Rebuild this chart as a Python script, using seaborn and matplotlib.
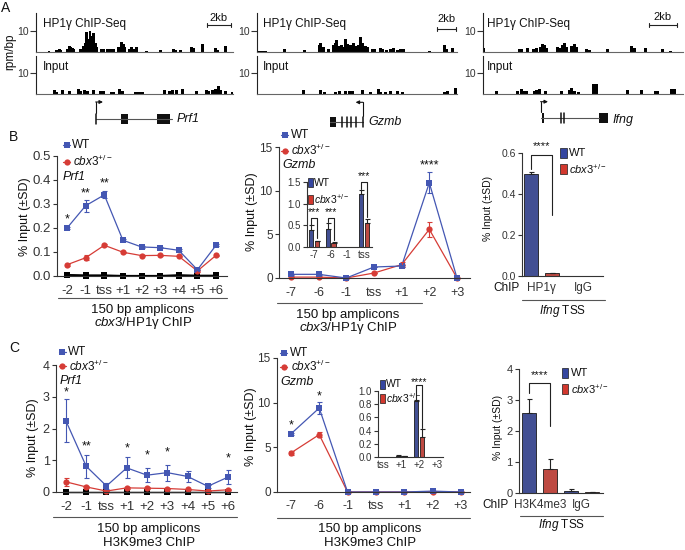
import numpy as np
import pandas as pd
import seaborn as sns
import matplotlib.pyplot as plt
from matplotlib.patches import Rectangle

sns.set_theme(style='ticks')
plt.rcParams['font.family'] = ['Liberation Sans', 'DejaVu Sans']
plt.rcParams['mathtext.fontset'] = 'custom'
plt.rcParams['mathtext.rm'] = 'Liberation Sans'
plt.rcParams['mathtext.it'] = 'Liberation Sans:italic'
plt.rcParams['mathtext.bf'] = 'Liberation Sans:bold'
plt.rcParams['axes.linewidth'] = 0.8
plt.rcParams['axes.edgecolor'] = '#333333'
plt.rcParams['xtick.color'] = '#333333'
plt.rcParams['ytick.color'] = '#333333'
plt.rcParams['text.color'] = '#111111'

W, H = 685, 550
BLUE, RED = '#4457b3', '#d63c36'
BAR_BLUE, BAR_RED = '#3546a0', '#d2382e'
CBX = r'$\mathit{cbx3}^{+/-}$'

# ---- panel A: tracks (position in % of window, height in rpm/bp) ----
prf1_chip_pos = [6.6, 10.5, 11.7, 12.5, 15.9, 16.8, 17.6, 18.4, 19.3, 22.7, 23.9, 24.9, 25.7, 26.6,
                 27.4, 28.3, 29.1, 30.0, 30.8, 33.3, 34.5, 36.2, 37.6, 39.3, 42.1, 43.3, 44.2, 45.0,
                 47.2, 48.4, 49.7, 50.8, 56.0, 63.3, 69.7, 70.7, 73.4, 78.8, 80.2, 84.4, 91.2, 92.0, 96.3]
prf1_chip_h = [0.5, 0.8, 1.2, 0.8, 1.5, 2.8, 2.2, 1.8, 1.5, 1.5, 3.0, 4.5, 9.5, 6.0,
               9.8, 7.5, 9.0, 4.5, 2.5, 1.3, 1.2, 1.5, 1.2, 1.5, 2.5, 4.8, 4.0, 2.5,
               1.5, 2.2, 1.5, 2.3, 0.7, 1.0, 1.5, 1.0, 0.8, 2.5, 2.0, 3.8, 1.8, 1.0, 2.7]
prf1_in_pos = [9.5, 10.5, 13.4, 16.8, 21.5, 22.7, 24.4, 26.0, 29.1, 32.8, 34.2, 38.2, 39.6, 42.6,
               43.8, 50.3, 51.5, 52.7, 53.9, 65.3, 68.0, 69.2, 71.4, 74.3, 81.6, 86.6, 87.8, 89.5,
               91.2, 92.4, 93.7, 96.3, 99.5]
prf1_in_h = [1.8, 1.0, 1.8, 1.6, 2.4, 1.5, 1.8, 1.5, 1.8, 1.6, 1.2, 0.8, 0.8, 2.2,
             1.4, 1.0, 1.0, 1.0, 1.0, 1.9, 1.2, 2.0, 1.8, 2.2, 1.2, 1.8, 1.2, 1.8,
             2.4, 3.8, 2.0, 1.3, 0.8]
gzmb_chip_pos = [1.0, 2.7, 4.3, 13.5, 23.5, 31.0, 31.8, 33.0, 35.5, 38.2, 39.0, 39.8, 40.7, 42.2,
                 43.2, 44.3, 45.2, 46.8, 48.0, 49.0, 50.5, 51.8, 52.8, 54.0, 55.2, 57.7, 58.8, 61.5,
                 62.7, 64.8, 66.8, 68.2, 70.2, 71.8, 73.2, 86.0, 93.5, 94.8, 97.7]
gzmb_chip_h = [0.5, 0.5, 0.5, 1.2, 1.0, 3.2, 4.2, 2.5, 1.5, 3.2, 4.3, 5.5, 3.0, 3.5,
               2.5, 6.0, 4.0, 3.5, 4.5, 3.0, 3.5, 7.2, 4.5, 3.0, 2.2, 1.5, 1.3, 2.0,
               1.2, 0.8, 1.5, 1.8, 1.0, 1.5, 1.2, 0.3, 3.5, 1.2, 2.0]
gzmb_in_pos = [23.2, 31.8, 33.5, 39.3, 41.0, 44.3, 46.0, 47.7, 52.7, 56.8, 60.7, 61.8, 64.3, 66.8,
               70.2, 72.7, 93.5, 95.2, 99.3]
gzmb_in_h = [2.0, 1.8, 1.0, 1.0, 1.2, 1.5, 1.3, 1.3, 1.8, 1.0, 2.3, 1.0, 1.0, 1.5,
             1.3, 1.0, 1.0, 1.5, 3.0]
ifng_chip_pos = [0.3, 18.2, 19.3, 22.2, 25.2, 26.5, 28.5, 29.5, 30.5, 31.5, 37.2, 38.2, 39.8, 40.7,
                 41.5, 44.3, 45.5, 46.5, 51.8, 53.2, 62.2, 74.3, 75.5, 81.0, 89.8, 93.8]
ifng_chip_h = [1.8, 1.2, 1.5, 1.8, 1.3, 1.8, 2.5, 3.8, 3.2, 2.0, 2.2, 2.0, 3.5, 4.2,
               2.5, 3.0, 4.0, 2.5, 1.2, 1.0, 1.5, 3.0, 2.0, 2.0, 1.2, 0.5]
ifng_in_pos = [6.8, 17.2, 19.3, 20.5, 21.8, 25.7, 26.8, 28.2, 31.0, 39.3, 43.2, 44.3, 45.5, 47.7,
               55.4, 56.6, 72.3, 79.3, 86.3, 87.2, 94.3, 95.5]
ifng_in_h = [1.2, 1.2, 2.2, 1.5, 1.5, 1.6, 1.8, 2.3, 1.5, 1.2, 1.8, 2.8, 1.5, 0.9,
             4.8, 4.8, 2.0, 2.0, 1.3, 1.3, 2.2, 2.2]

# gene models (% of window)
prf1_span, prf1_exons, prf1_lines = (30.5, 69.0), [(43.1, 46.7), (61.4, 68.0)], [30.5]
gzmb_span, gzmb_exons, gzmb_lines = (36.5, 52.8), [(36.5, 39.5)], [42.3, 44.8, 46.8, 49.5, 52.8]
ifng_span, ifng_exons, ifng_lines = (29.0, 58.2), [(29.3, 30.5), (58.2, 62.7)], [38.8, 40.7]

# ---- panel B ----
prf1_sites = ['-2', '-1', 'tss', '+1', '+2', '+3', '+4', '+5', '+6']
gzmb_sites = ['-7', '-6', '-1', 'tss', '+1', '+2', '+3']

b_prf1_wt = [0.200, 0.293, 0.338, 0.149, 0.121, 0.118, 0.107, 0.026, 0.128]
b_prf1_wt_sd = [0.006, 0.025, 0.015, 0.004, 0.004, 0.003, 0.004, 0.003, 0.004]
b_prf1_ko = [0.047, 0.076, 0.128, 0.099, 0.085, 0.086, 0.082, 0.021, 0.086]
b_prf1_ko_sd = [0.004, 0.010, 0.004, 0.003, 0.003, 0.003, 0.003, 0.003, 0.003]
b_prf1_igg1 = [0.006, 0.004, 0.004, 0.002, 0.002, 0.002, 0.005, 0.003, 0.003]
b_prf1_igg2 = [0.003, 0.002, 0.002, 0.001, 0.001, 0.001, 0.002, 0.001, 0.001]
b_prf1_stars = [('-2', '*', 0.235), ('-1', '**', 0.346), ('tss', '**', 0.385)]

b_gzmb_wt = [0.42, 0.42, 0.0, 1.26, 1.37, 10.9, 0.0]
b_gzmb_wt_sd = [0.05, 0.05, 0.0, 0.05, 0.15, 1.2, 0.0]
b_gzmb_ko = [0.10, 0.10, 0.0, 0.57, 1.53, 5.57, 0.0]
b_gzmb_ko_sd = [0.03, 0.03, 0.0, 0.05, 0.30, 0.85, 0.0]
b_gzmb_stars = [('+2', '****', 12.9)]

b_inset_sites = ['-7', '-6', '-1', 'tss']
b_inset_wt = [0.40, 0.41, 0.0, 1.23]
b_inset_wt_sd = [0.10, 0.14, 0.0, 0.08]
b_inset_ko = [0.13, 0.10, 0.0, 0.56]
b_inset_ko_sd = [0.02, 0.02, 0.0, 0.08]
# (site index, stars, bracket top, left foot, right foot, star height)
b_inset_brackets = [(0, '***', 0.68, 0.51, 0.20, 0.80), (1, '***', 0.68, 0.58, 0.16, 0.80),
                    (3, '***', 1.51, 1.35, 0.70, 1.63)]

b_ifng_chip = ['HP1γ', 'IgG']
b_ifng_wt = [0.499, 0.002]
b_ifng_wt_sd = [0.006, 0.0]
b_ifng_ko = [0.015, 0.001]
b_ifng_ko_sd = [0.002, 0.0]
b_ifng_bracket = (0, '****', 0.589, 0.524, 0.30, 0.635)

# ---- panel C ----
c_prf1_wt = [2.24, 0.81, 0.19, 0.76, 0.53, 0.61, 0.49, 0.18, 0.47]
c_prf1_wt_sd = [0.68, 0.37, 0.10, 0.33, 0.23, 0.25, 0.17, 0.04, 0.21]
c_prf1_ko = [0.32, 0.16, 0.03, 0.13, 0.12, 0.11, 0.08, 0.03, 0.07]
c_prf1_ko_sd = [0.12, 0.04, 0.01, 0.03, 0.03, 0.03, 0.02, 0.01, 0.02]
c_prf1_igg1 = [0.01, 0.01, 0.01, 0.01, 0.01, 0.01, 0.01, 0.01, 0.01]
c_prf1_igg2 = [0.0, 0.0, 0.0, 0.0, 0.0, 0.0, 0.0, 0.0, 0.0]
c_prf1_stars = [('-2', '*', 3.13), ('-1', '**', 1.42), ('+1', '*', 1.37), ('+2', '*', 1.16),
                ('+3', '*', 1.26), ('+6', '*', 1.05)]

c_gzmb_wt = [6.5, 9.4, 0.0, 0.0, 0.0, 0.1, 0.0]
c_gzmb_wt_sd = [0.15, 0.65, 0.0, 0.0, 0.0, 0.05, 0.0]
c_gzmb_ko = [4.37, 6.42, 0.0, 0.0, 0.0, 0.05, 0.0]
c_gzmb_ko_sd = [0.25, 0.30, 0.0, 0.0, 0.0, 0.0, 0.0]
c_gzmb_stars = [('-7', '*', 7.5), ('-6', '*', 10.7)]

c_inset_sites = ['tss', '+1', '+2', '+3']
c_inset_wt = [0.005, 0.02, 0.85, 0.0]
c_inset_wt_sd = [0.0, 0.005, 0.01, 0.0]
c_inset_ko = [0.003, 0.01, 0.30, 0.0]
c_inset_ko_sd = [0.0, 0.003, 0.12, 0.0]
c_inset_brackets = [(2, '****', 1.085, 0.86, 0.435, 1.13)]

c_ifng_chip = ['H3K4me3', 'IgG']
c_ifng_wt = [2.59, 0.065]
c_ifng_wt_sd = [0.45, 0.075]
c_ifng_ko = [0.79, 0.02]
c_ifng_ko_sd = [0.32, 0.01]
c_ifng_bracket = (0, '****', 3.55, 3.24, 2.16, 3.82)


def px_ax(fig, l, t, r, b):
    return fig.add_axes([l / W, 1 - b / H, (r - l) / W, (b - t) / H])


def track(ax, pos, h, ymax):
    ax.bar(pos, h, width=1.5, color='black', linewidth=0)
    ax.set_xlim(0, 100)
    ax.set_ylim(0, ymax)
    ax.set_yticks([10])
    ax.set_yticklabels(['10'])
    ax.set_xticks([])
    sns.despine(ax=ax)
    ax.spines['bottom'].set_color('#666666')
    ax.spines['left'].set_color('#222222')
    ax.tick_params(axis='y', length=4, width=0.8, labelsize=7.5, pad=1)


def gene(ax, span, exons, lines, y, tss, direction, ay):
    ax.plot(span, [y, y], color='#555555', lw=0.8)
    for a, b in exons:
        ax.add_patch(Rectangle((a, y - 5), b - a, 10, color='#111111', lw=0))
    for x in lines:
        ax.plot([x, x], [y - 5, y + 5], color='#111111', lw=1.1)
    ax.plot([tss, tss], [y - 6, ay], color='#111111', lw=0.8)
    ax.annotate('', xy=(tss + direction * 3.5, ay), xytext=(tss - direction * 0.2, ay),
                arrowprops=dict(arrowstyle='-|>', lw=0.8, color='#111111', mutation_scale=5,
                                shrinkA=0, shrinkB=0))
    ax.set_xlim(0, 100)
    ax.set_ylim(130, 96)
    ax.axis('off')


def line_panel(ax, sites, series, sds, colors, markers):
    df = pd.concat([pd.DataFrame({'site': np.arange(len(sites)), 'val': v, 'group': k})
                    for k, v in series.items()])
    sns.lineplot(data=df, x='site', y='val', hue='group', style='group', hue_order=list(series),
                 style_order=list(series), palette=colors, markers=markers, dashes=False,
                 markersize=4.5, markeredgewidth=0, linewidth=0.9, legend=False, ax=ax)
    for k, sd in sds.items():
        ax.errorbar(np.arange(len(sites)), series[k], yerr=sd, fmt='none', ecolor=colors[k],
                    elinewidth=0.8, capsize=1.8, capthick=0.8, clip_on=False)
    for ln in ax.lines:
        ln.set_clip_on(False)


def bar_panel(ax, cats, wt, wt_sd, ko, ko_sd, width, gap):
    df = pd.DataFrame({'cat': cats * 2, 'val': wt + ko,
                       'geno': ['WT'] * len(cats) + ['cbx3'] * len(cats)})
    sns.barplot(data=df, x='cat', y='val', hue='geno', order=cats, hue_order=['WT', 'cbx3'],
                palette={'WT': BAR_BLUE, 'cbx3': BAR_RED}, width=width, gap=gap,
                edgecolor='#1a1a1a', linewidth=0.6, errorbar=None, legend=False, ax=ax)
    centers = []
    for cont, sd in zip(ax.containers, [wt_sd, ko_sd]):
        xs = np.array([b.get_x() + b.get_width() / 2 for b in cont])
        ys = np.array([b.get_height() for b in cont])
        sd = np.array(sd)
        m = sd > 0
        ax.errorbar(xs[m], ys[m], yerr=[np.zeros(m.sum()), sd[m]], fmt='none', ecolor='#222222',
                    elinewidth=0.8, capsize=1.8, capthick=0.8)
        centers.append(xs)
    return centers


def style_axes(ax, xlim, ylim, yticks, yfmt, xlabels, xsize, ysize, xpad):
    sns.despine(ax=ax)
    ax.set_xlim(*xlim)
    ax.set_ylim(*ylim)
    ax.set_yticks(yticks)
    ax.set_yticklabels([yfmt.format(v) for v in yticks])
    ax.set_xticks(range(len(xlabels)))
    ax.set_xticklabels(xlabels)
    ax.tick_params(axis='x', length=0, labelsize=xsize, pad=xpad)
    ax.tick_params(axis='y', length=3, width=0.8, labelsize=ysize, pad=1.5)
    ax.set_xlabel('')
    ax.set_ylabel('')


def stars(ax, sites, marks, fs=9):
    for site, s, y in marks:
        ax.text(sites.index(site), y, s, ha='center', va='center', fontsize=fs, clip_on=False)


def brackets(ax, centers, marks, fs=8):
    for i, s, top, lft, rgt, sy in marks:
        x0, x1 = centers[0][i], centers[1][i]
        ax.plot([x0, x0, x1, x1], [lft, top, top, rgt], color='#222222', lw=0.8, clip_on=False)
        ax.text((x0 + x1) / 2, sy, s, ha='center', va='center', fontsize=fs, clip_on=False)


fig = plt.figure(figsize=(W / 100, H / 100), dpi=100)

# ---------- A ----------
for left, right, cp, ch, ip, ih in [(36, 233, prf1_chip_pos, prf1_chip_h, prf1_in_pos, prf1_in_h),
                                     (257, 457, gzmb_chip_pos, gzmb_chip_h, gzmb_in_pos, gzmb_in_h),
                                     (483, 683, ifng_chip_pos, ifng_chip_h, ifng_in_pos, ifng_in_h)]:
    track(px_ax(fig, left, 13, right, 52), cp, ch, 18.6)
    track(px_ax(fig, left, 56, right, 94), ip, ih, 18.1)

gene(px_ax(fig, 36, 96, 233, 130), prf1_span, prf1_exons, prf1_lines, 119.3, 30.5, 1, 102)
gene(px_ax(fig, 257, 96, 457, 130), gzmb_span, gzmb_exons, gzmb_lines, 121.7, 52.8, -1, 102.3)
gene(px_ax(fig, 483, 96, 683, 130), ifng_span, ifng_exons, ifng_lines, 118.3, 29.0, 1, 101.7)

# ---------- B ----------
ax = px_ax(fig, 57, 156, 227, 276)
line_panel(ax, prf1_sites,
           {'igg1': b_prf1_igg1, 'igg2': b_prf1_igg2, 'cbx3': b_prf1_ko, 'WT': b_prf1_wt},
           {'cbx3': b_prf1_ko_sd, 'WT': b_prf1_wt_sd},
           {'igg1': 'black', 'igg2': 'black', 'cbx3': RED, 'WT': BLUE},
           {'igg1': 's', 'igg2': 's', 'cbx3': 'o', 'WT': 's'})
style_axes(ax, (-0.54, 8.59), (0, 0.5), [0, 0.1, 0.2, 0.3, 0.4, 0.5], '{:.1f}', prf1_sites, 9.5, 9.5, 6.3)
stars(ax, prf1_sites, b_prf1_stars)

ax = px_ax(fig, 279, 147, 470, 278)
line_panel(ax, gzmb_sites, {'cbx3': b_gzmb_ko, 'WT': b_gzmb_wt},
           {'cbx3': b_gzmb_ko_sd, 'WT': b_gzmb_wt_sd},
           {'cbx3': RED, 'WT': BLUE}, {'cbx3': 'o', 'WT': 's'})
style_axes(ax, (-0.43, 6.47), (0, 15), [0, 5, 10, 15], '{:d}', gzmb_sites, 9, 8.5, 6.3)
stars(ax, gzmb_sites, b_gzmb_stars)

ax = px_ax(fig, 307, 182, 372, 247)
cen = bar_panel(ax, b_inset_sites, b_inset_wt, b_inset_wt_sd, b_inset_ko, b_inset_ko_sd, 0.7, 0.25)
style_axes(ax, (-0.42, 3.48), (0, 1.5), [0, 0.5, 1.0, 1.5], '{:.1f}', b_inset_sites, 7, 7, 2)
brackets(ax, cen, b_inset_brackets, 7.5)

ax = px_ax(fig, 522, 153, 603, 276)
cen = bar_panel(ax, b_ifng_chip, b_ifng_wt, b_ifng_wt_sd, b_ifng_ko, b_ifng_ko_sd, 1.0, 0.33)
style_axes(ax, (-0.47, 1.48), (0, 0.6), [0, 0.2, 0.4, 0.6], '{:.1f}', b_ifng_chip, 8.5, 7.5, 4)
brackets(ax, cen, [b_ifng_bracket], 8)

# ---------- C ----------
ax = px_ax(fig, 56, 365, 237, 492)
line_panel(ax, prf1_sites,
           {'igg1': c_prf1_igg1, 'igg2': c_prf1_igg2, 'cbx3': c_prf1_ko, 'WT': c_prf1_wt},
           {'cbx3': c_prf1_ko_sd, 'WT': c_prf1_wt_sd},
           {'igg1': 'black', 'igg2': 'black', 'cbx3': RED, 'WT': BLUE},
           {'igg1': 's', 'igg2': 's', 'cbx3': 'o', 'WT': 's'})
style_axes(ax, (-0.49, 8.44), (0, 4), [0, 1, 2, 3, 4], '{:d}', prf1_sites, 9.5, 9, 6.3)
stars(ax, prf1_sites, c_prf1_stars)

ax = px_ax(fig, 277, 358, 470, 492)
line_panel(ax, gzmb_sites, {'cbx3': c_gzmb_ko, 'WT': c_gzmb_wt},
           {'cbx3': c_gzmb_ko_sd, 'WT': c_gzmb_wt_sd},
           {'cbx3': RED, 'WT': BLUE}, {'cbx3': 'o', 'WT': 's'})
style_axes(ax, (-0.49, 6.32), (0, 15), [0, 5, 10, 15], '{:d}', gzmb_sites, 9, 8.5, 6)
stars(ax, gzmb_sites, c_gzmb_stars)

ax = px_ax(fig, 378, 391, 443, 457)
cen = bar_panel(ax, c_inset_sites, c_inset_wt, c_inset_wt_sd, c_inset_ko, c_inset_ko_sd, 0.68, 0.18)
style_axes(ax, (-0.32, 3.36), (0, 1.0), [0, 0.2, 0.4, 0.6, 0.8, 1.0], '{:.1f}', c_inset_sites, 7, 7, 2)
brackets(ax, cen, c_inset_brackets, 7.5)

ax = px_ax(fig, 519, 369, 603, 493)
cen = bar_panel(ax, c_ifng_chip, c_ifng_wt, c_ifng_wt_sd, c_ifng_ko, c_ifng_ko_sd, 1.0, 0.32)
style_axes(ax, (-0.5, 1.52), (0, 4), [0, 1, 2, 3, 4], '{:d}', c_ifng_chip, 8.5, 8, 4)
brackets(ax, cen, [c_ifng_bracket], 8)

# ---------- text overlay in pixel coordinates ----------
ov = fig.add_axes([0, 0, 1, 1])
ov.set_xlim(0, W)
ov.set_ylim(H, 0)
ov.axis('off')


def txt(x, y, s, ha='left', fs=8.5, **kw):
    ov.text(x, y, s, ha=ha, va='center', fontsize=fs, **kw)


def hline(x0, x1, y, c='#555555'):
    ov.plot([x0, x1], [y, y], color=c, lw=0.8)


txt(6, 8, 'A', ha='center', fs=10)
txt(14, 137, 'B', ha='center', fs=10)
txt(14, 348, 'C', ha='center', fs=10)

txt(10, 52, 'rpm/bp', ha='center', fs=8.5, rotation=90)
for x in [43, 263, 487]:
    txt(x, 24, 'HP1γ ChIP-Seq', fs=8.5)
    txt(x, 67, 'Input', fs=8.5)
for x0, x1, yb, yt in [(207, 231, 25, 18), (437, 456, 29, 19), (649, 677, 25, 17)]:
    ov.plot([x0, x1], [yb, yb], color='#222222', lw=0.8)
    ov.plot([x0, x0], [yb - 2, yb + 2], color='#222222', lw=0.8)
    ov.plot([x1, x1], [yb - 2, yb + 2], color='#222222', lw=0.8)
    txt((x0 + x1) / 2, yt, '2kb', ha='center', fs=8)
txt(177, 119, 'Prf1', fs=9, style='italic')
txt(368, 122, 'Gzmb', fs=9, style='italic')
txt(613, 120, 'Ifng', fs=9, style='italic')


def line_legend(x, y1, y2, xt, fs=8.5):
    ov.plot([x - 3.5, x + 3.5], [y1, y1], color=BLUE, lw=0.9)
    ov.plot([x], [y1], marker='s', color=BLUE, ms=4.5, mew=0)
    ov.plot([x - 3.5, x + 3.5], [y2, y2], color=RED, lw=0.9)
    ov.plot([x], [y2], marker='o', color=RED, ms=4.5, mew=0)
    txt(xt, y1, 'WT', fs=fs)
    txt(xt + 1, y2, CBX, fs=fs)


def bar_legend(x, w, y1, y2, h, xt, fs=8):
    ov.add_patch(Rectangle((x, y1 - h / 2), w, h, facecolor=BAR_BLUE, edgecolor='#1a1a1a', lw=0.5))
    ov.add_patch(Rectangle((x, y2 - h / 2), w, h, facecolor=BAR_RED, edgecolor='#1a1a1a', lw=0.5))
    txt(xt, y1, 'WT', fs=fs)
    txt(xt, y2, CBX, fs=fs)


# B
line_legend(66.7, 145, 161.7, 72)
txt(63, 177, 'Prf1', fs=9, style='italic')
hline(58, 227, 298)
txt(143, 310, '150 bp amplicons', ha='center', fs=9.5)
txt(143, 323, r'$\mathit{cbx3}$/HP1γ ChIP', ha='center', fs=9.5)
txt(25, 217, '% Input (±SD)', ha='center', fs=9, rotation=90)

line_legend(285, 135, 150.7, 290.5)
txt(282.7, 165, 'Gzmb', fs=9, style='italic')
hline(277, 422, 303)
txt(348, 315, '150 bp amplicons', ha='center', fs=9.5)
txt(348, 328, r'$\mathit{cbx3}$/HP1γ ChIP', ha='center', fs=9.5)
txt(252, 212, '% Input (±SD)', ha='center', fs=9, rotation=90)
bar_legend(308, 5, 182.5, 199, 9, 314, fs=7.5)

txt(488, 208, '% Input (±SD)', ha='center', fs=7.5, rotation=90)
bar_legend(560, 7, 153, 169, 10, 569, fs=8)
txt(507, 288, 'ChIP', ha='center', fs=8.5)
hline(522, 605, 300)
txt(563, 311, r'$\mathit{Ifng}$ TSS', ha='center', fs=8.5)

# C
line_legend(62.5, 352, 366, 68)
txt(59.3, 381, 'Prf1', fs=9, style='italic')
hline(53, 237, 517)
txt(149, 529, '150 bp amplicons', ha='center', fs=9.5)
txt(149, 543, 'H3K9me3 ChIP', ha='center', fs=9.5)
txt(33, 438, '% Input (±SD)', ha='center', fs=9, rotation=90)

line_legend(284, 352.7, 366.7, 290)
txt(280, 381.7, 'Gzmb', fs=9, style='italic')
hline(277, 470, 518)
txt(370, 529, '150 bp amplicons', ha='center', fs=9.5)
txt(370, 543, 'H3K9me3 ChIP', ha='center', fs=9.5)
txt(251, 427, '% Input (±SD)', ha='center', fs=9, rotation=90)
bar_legend(380, 5, 384, 398, 9, 386, fs=7.5)

txt(498, 427, '% Input (±SD)', ha='center', fs=7.5, rotation=90)
bar_legend(562, 6.5, 373, 389, 10.5, 571, fs=8)
txt(496, 505, 'ChIP', ha='center', fs=8.5)
hline(520, 603, 516)
txt(562, 525, r'$\mathit{Ifng}$ TSS', ha='center', fs=8.5)

fig.savefig('out.png', dpi=100)
